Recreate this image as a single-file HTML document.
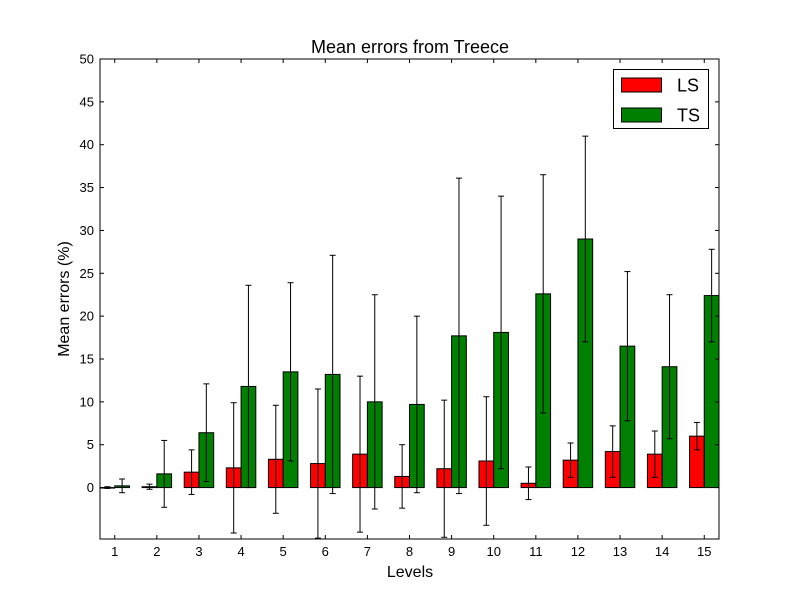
<!DOCTYPE html>
<html><head><meta charset="utf-8"><style>
body{margin:0;background:#fff;}
svg text{font-family:"Liberation Sans","DejaVu Sans",sans-serif;}
</style></head><body>
<svg id="chart" width="800" height="600" xmlns="http://www.w3.org/2000/svg">
<rect width="800" height="600" fill="#fff"/>
<text x="410" y="53" font-size="18" text-anchor="middle">Mean errors from Treece</text>
<text x="410" y="577" font-size="16" text-anchor="middle">Levels</text>
<text x="69" y="299" font-size="16" text-anchor="middle" transform="rotate(-90 69 299)">Mean errors (%)</text>
<defs><clipPath id="clip"><rect x="100" y="59" width="619" height="480"/></clipPath></defs>
<g id="marks" clip-path="url(#clip)"></g>
<g id="axes"></g>
</svg>
<script>
const levels = [1,2,3,4,5,6,7,8,9,10,11,12,13,14,15];
const lsMeans = [0,0.1,1.8,2.3,3.3,2.8,3.9,1.3,2.2,3.1,0.5,3.2,4.2,3.9,6.0];
const lsErrs = [0.1,0.3,2.6,7.6,6.3,8.7,9.1,3.7,8.0,7.5,1.9,2.0,3.0,2.7,1.6];
const tsMeans = [0.2,1.6,6.4,11.8,13.5,13.2,10.0,9.7,17.7,18.1,22.6,29.0,16.5,14.1,22.4];
const tsErrs = [0.8,3.9,5.7,11.8,10.4,13.9,12.5,10.3,18.4,15.9,13.9,12.0,8.7,8.4,5.4];
const yTicks = [0,5,10,15,20,25,30,35,40,45,50];

const L=100,R=719,T=59,B=539;
const xMin=0.65,xMax=15.35,yMin=-6,yMax=50;
const xs=v=>L+(v-xMin)/(xMax-xMin)*(R-L);
const ys=v=>T+(yMax-v)/(yMax-yMin)*(B-T);
const NS="http://www.w3.org/2000/svg";
function mk(tag,attrs,parent){const e=document.createElementNS(NS,tag);for(const k in attrs)e.setAttribute(k,attrs[k]);parent.appendChild(e);return e;}
const marks=document.getElementById('marks'), axes=document.getElementById('axes');
const bw=0.35;
function series(means,errs,off,color,name){
  levels.forEach((lv,i)=>{
    const x0=xs(lv+off), x1=xs(lv+off+bw);
    const y0=ys(Math.max(0,means[i])), y1=ys(Math.min(0,means[i]));
    const r=mk('rect',{x:x0,y:y0,width:x1-x0,height:Math.max(0.5,y1-y0),fill:color,stroke:'#000','stroke-width':1},marks);
    
    
    const cx=xs(lv+off+bw/2), hi=ys(means[i]+errs[i]), lo=ys(means[i]-errs[i]);
    const g=mk('g',{stroke:'#000','stroke-width':1},marks);
    
    
    mk('line',{x1:cx,x2:cx,y1:hi,y2:lo},g);
    mk('line',{x1:cx-3,x2:cx+3,y1:hi,y2:hi},g);
    mk('line',{x1:cx-3,x2:cx+3,y1:lo,y2:lo},g);
  });
}
series(lsMeans,lsErrs,-bw,'#ff0000','ls');
series(tsMeans,tsErrs,0,'#008000','ts');

const frame=mk('rect',{x:L,y:T,width:R-L,height:B-T,fill:'none',stroke:'#000','stroke-width':1},axes);


yTicks.forEach(v=>{
  const y=ys(v);
  mk('line',{x1:L,x2:L+4,y1:y,y2:y,stroke:'#000'},axes);
  mk('line',{x1:R,x2:R-4,y1:y,y2:y,stroke:'#000'},axes);
  const t=mk('text',{x:L-6,y:y+4.5,'font-size':13,'text-anchor':'end'},axes);
  t.textContent=v;
  
  
});
levels.forEach(v=>{
  const x=xs(v);
  mk('line',{x1:x,x2:x,y1:B,y2:B-4,stroke:'#000'},axes);
  mk('line',{x1:x,x2:x,y1:T,y2:T+4,stroke:'#000'},axes);
  const t=mk('text',{x:x,y:B+17,'font-size':13,'text-anchor':'middle'},axes);
  t.textContent=v;
  
  
});
const lg=mk('g',{},axes);


mk('rect',{x:613.5,y:69.5,width:95,height:59,fill:'#fff',stroke:'#000'},lg);
[['LS','#ff0000',85],['TS','#008000',115]].forEach(([n,c,y])=>{
  const e=mk('g',{},lg);
  
  
  mk('rect',{x:621.5,y:y-7,width:40,height:14,fill:c,stroke:'#000'},e);
  const t=mk('text',{x:677,y:y+6.5,'font-size':18},e);
  t.textContent=n;
});
</script>
</body></html>
